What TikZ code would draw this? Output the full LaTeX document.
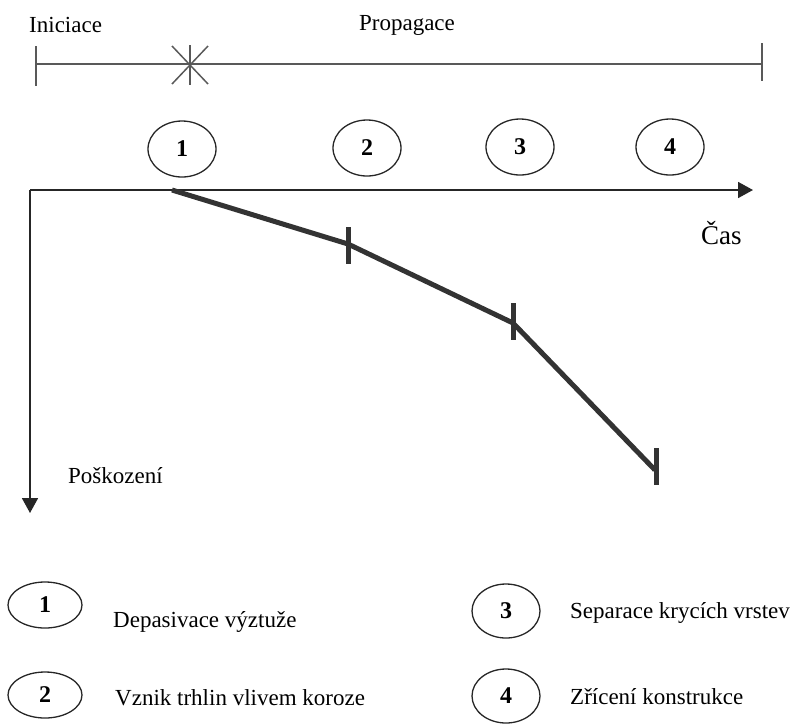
\documentclass[tikz,border=0pt]{standalone}
\usepackage{fontspec}
\setmainfont{Liberation Serif}
\usetikzlibrary{shapes.geometric,arrows.meta}
\begin{document}
\begin{tikzpicture}[x=1pt,y=-1pt,
 lbl/.style={inner sep=0pt,font=\fontsize{23}{27}\selectfont},
 num/.style={draw=black!85,line width=1.3pt,ellipse,inner sep=0pt,minimum width=68pt,minimum height=56pt,font=\fontsize{24}{28}\selectfont\bfseries},
 lnuml/.style={num,minimum width=74pt,minimum height=46pt},
 lnumr/.style={num,minimum width=68pt,minimum height=54pt},
 thinline/.style={draw=black!65,line width=1.5pt},
 axisline/.style={draw=black!85,line width=1.8pt,-{Triangle[length=15pt,width=16pt]}},
 damage/.style={draw=black!80,line width=5pt,line join=round},
 marktick/.style={draw=black!80,line width=5pt}]
\useasboundingbox (0,0) rectangle (795,724);
% timeline
\node[lbl,anchor=west] (ini) at (29,25) {Iniciace};
\node[lbl] (prop) at (407,25) {Propagace};
\coordinate (tl) at (36,64);
\coordinate (tr) at (762,64);
\coordinate (star) at (190,65);
\draw[thinline] (tl) -- (tr);
\draw[thinline] (tl) ++(0,-18) -- ++(0,40);
\draw[thinline] (tr) ++(0,-21) -- ++(0,38);
\draw[thinline] (star) ++(0,-20) -- ++(0,40);
\draw[thinline] (star) ++(-18,-19) -- ++(36,38);
\draw[thinline] (star) ++(18,-19) -- ++(-36,38);
% top ellipses
\node[num] (e1) at (182,149) {1};
\node[num] (e2) at (367,148) {2};
\node[num] (e3) at (520,147) {3};
\node[num] (e4) at (670,147) {4};
% axes
\coordinate (O) at (30,190);
\coordinate (xend) at (753,190);
\coordinate (yend) at (30,513);
\draw[axisline] (O) -- (xend);
\draw[axisline] (O) -- (yend);
\node[lbl,font=\fontsize{27}{31}\selectfont,anchor=west] (cas) at (701,233) {Čas};
\node[lbl,anchor=west] (posk) at (68,476) {Poškození};
% damage curve
\coordinate (c1) at (172,190);
\coordinate (c2) at (348,244);
\coordinate (c3) at (513,323);
\coordinate (c4) at (655,470);
\draw[damage] (c1) -- (c2) -- (c3) -- (c4);
\draw[marktick] (c2) ++(0,-17) -- ++(0,37);
\draw[marktick] (c3) ++(0,-20) -- ++(0,37);
\draw[marktick] (c4) ++(1,-22) -- ++(0,37);
% legend
\node[lnuml] (l1) at (45,605) {1};
\node[lnuml] (l2) at (45,695) {2};
\node[lnumr] (l3) at (506,611) {3};
\node[lnumr] (l4) at (506,696) {4};
\node[lbl,anchor=west] (t1) at (113,622) {Depasivace výztuže};
\node[lbl,anchor=west] (t2) at (115,698) {Vznik trhlin vlivem koroze};
\node[lbl,anchor=west] (t3) at (570,613) {Separace krycích vrstev};
\node[lbl,anchor=west] (t4) at (570,697) {Zřícení konstrukce};
\end{tikzpicture}
\end{document}
